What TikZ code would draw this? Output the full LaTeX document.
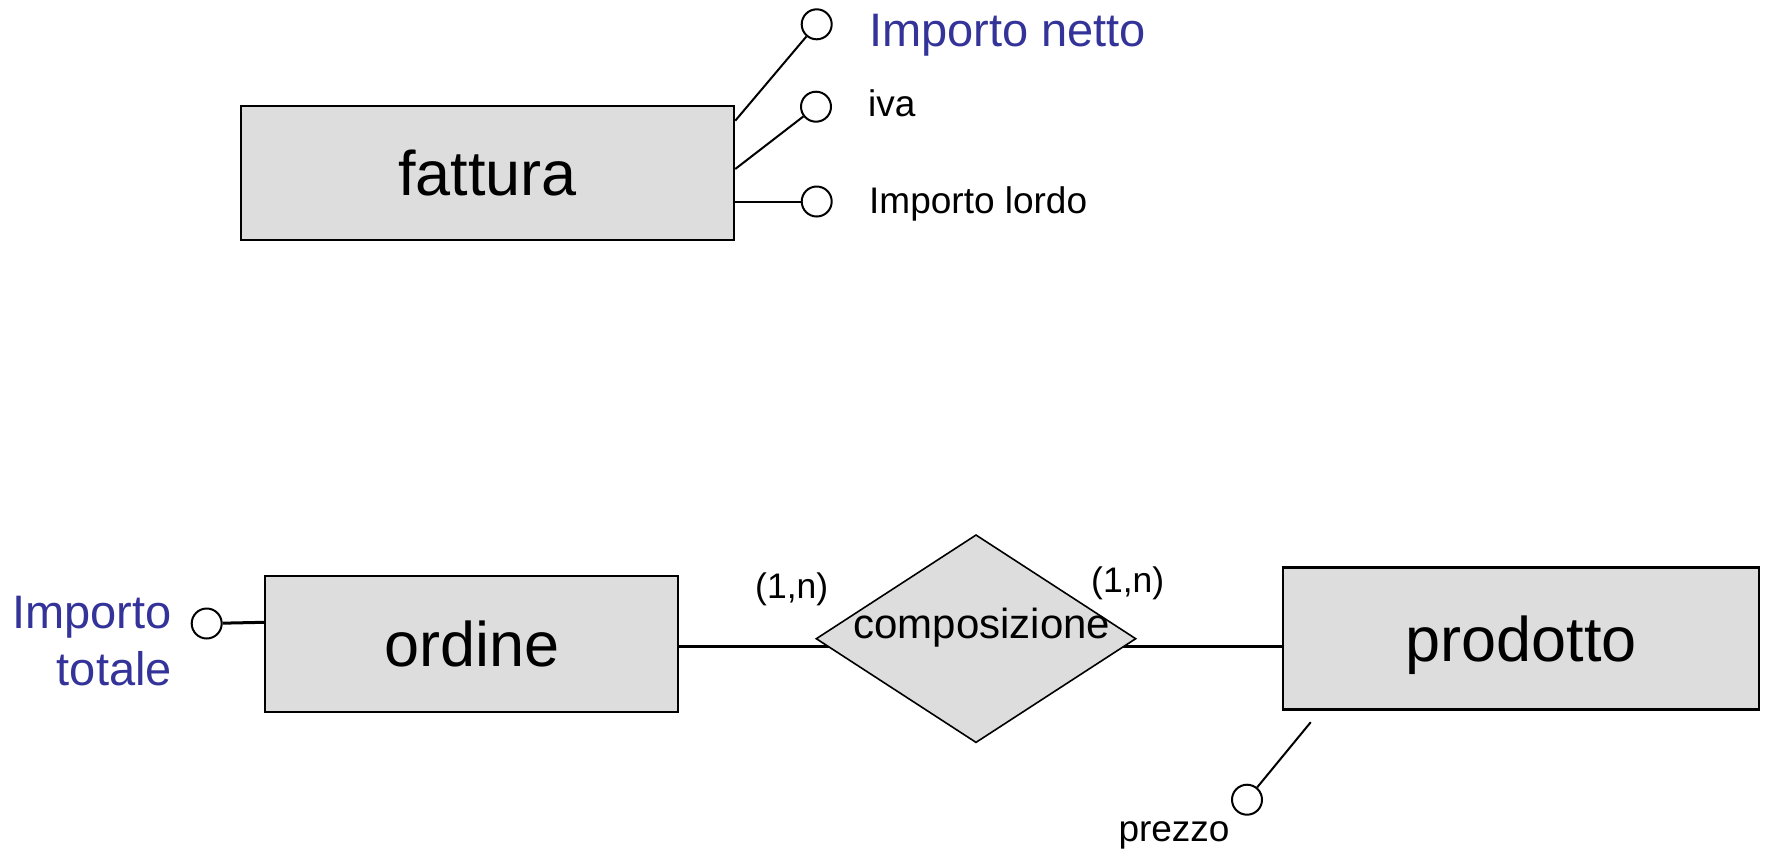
\documentclass[tikz,border=0pt]{standalone}
\usepackage{fontspec}
\setmainfont{Liberation Sans}
\usetikzlibrary{shapes.geometric,backgrounds}
\definecolor{entfill}{HTML}{DDDDDD}
\definecolor{attblue}{HTML}{333399}
\begin{document}
\begin{tikzpicture}[x=1pt,y=-1pt,
 entity/.style={draw=black,line width=2.5pt,fill=entfill,rectangle,inner sep=0pt,font=\fontsize{63}{70}\selectfont,text height=45pt,text depth=0pt},
 rel/.style={draw=black,line width=1.6pt,fill=entfill,diamond,inner sep=0pt,minimum width=320pt,minimum height=208pt},
 attr/.style={draw=black,line width=2pt,fill=white,circle,inner sep=0pt,minimum size=30pt},
 conn/.style={line width=2pt},
 relline/.style={line width=3pt},
 biglbl/.style={inner sep=0pt,text=attblue,font=\fontsize{47}{56.7}\selectfont},
 smalllbl/.style={inner sep=0pt,font=\fontsize{37}{44}\selectfont},
 cardlbl/.style={inner sep=0pt,font=\fontsize{35.5}{42}\selectfont},
]
\useasboundingbox (0,0) rectangle (1767,852);

% entities and relationship
\node[entity,minimum width=493pt,minimum height=134pt] (fattura) at (487.5,173) {fattura};
\node[entity,minimum width=413pt,minimum height=136pt] (ordine) at (471.7,643.8) {ordine};
\node[entity,minimum width=476pt,minimum height=142pt] (prodotto) at (1521,638.5) {prodotto};
\node[rel] (comp) at (976,638.7) {};
\node[inner sep=0pt,anchor=base,font=\fontsize{42}{48}\selectfont] (compt) at (981.7,638.3) {composizione};

% attribute circles
\node[attr] (netto) at (816.7,24.3) {};
\node[attr] (iva) at (816,106.7) {};
\node[attr] (lordo) at (816.7,201.5) {};
\node[attr] (totale) at (206.7,623.5) {};
\node[attr] (prezzo) at (1247,799.7) {};

% labels
\node[biglbl,anchor=base west] (nettot) at (869,46.7) {Importo netto};
\node[smalllbl,anchor=base west] (ivat) at (868,116.7) {iva};
\node[smalllbl,anchor=base west] (lordot) at (869,213.3) {Importo lordo};
\node[biglbl,anchor=east,align=right] (totalet) at (172,641.3) {Importo\\totale};
\node[smalllbl,anchor=base west] (prezzot) at (1118.3,841.5) {prezzo};
\node[cardlbl,anchor=base west] (c1) at (755,598) {(1,n)};
\node[cardlbl,anchor=base west] (c2) at (1091,592) {(1,n)};

% connectors
\draw[conn] ([yshift=52.3pt]fattura.east) -- (netto);
\draw[conn] ([yshift=4pt]fattura.east) -- (iva);
\draw[conn] ([yshift=-28.5pt]fattura.east) -- (lordo);
\draw[relline] (totale) -- ([yshift=21.5pt]ordine.west);
\draw[conn] ([xshift=29pt,yshift=-11.4pt]prodotto.south west) -- (prezzo);
\begin{scope}[on background layer]
\draw[relline] ([yshift=-2.9pt]ordine.east) -- ([yshift=-2.9pt]ordine.east -| comp.center);
\draw[relline] ([yshift=-8.2pt]prodotto.west) -- ([yshift=-8.2pt]prodotto.west -| comp.center);
\end{scope}
\end{tikzpicture}
\end{document}
